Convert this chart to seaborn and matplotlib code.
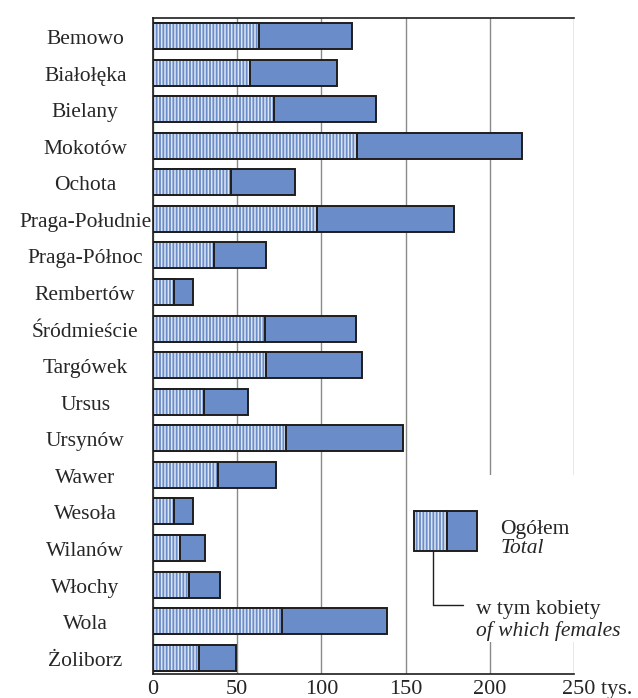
import matplotlib
matplotlib.use("Agg")
import matplotlib.pyplot as plt
import seaborn as sns
import pandas as pd
from matplotlib.patches import Rectangle

districts = ["Bemowo", "Białołęka", "Bielany", "Mokotów", "Ochota", "Praga-Południe",
             "Praga-Północ", "Rembertów", "Śródmieście", "Targówek", "Ursus", "Ursynów",
             "Wawer", "Wesoła", "Wilanów", "Włochy", "Wola", "Żoliborz"]
total = [118.2, 109.3, 132.2, 219.2, 84.6, 178.5, 67.4, 24.1, 120.4,
         123.9, 56.7, 148.6, 73.1, 24.1, 30.8, 40.1, 138.7, 49.2]
females = [63.0, 57.7, 71.9, 121.0, 46.4, 97.6, 36.4, 12.6, 66.6,
           67.0, 30.2, 79.2, 38.9, 12.6, 16.4, 21.5, 76.5, 27.5]
tick_values = [0, 50, 100, 150, 200, 250]
tick_labels = ["0", "50", "100", "150", "200", ""]

blue = "#6A8CC8"
stripe = "#dde6f5"
dark = "#1e1e1e"

sns.set_style("white")
plt.rcParams["font.family"] = ["Liberation Serif", "DejaVu Serif"]
plt.rcParams["hatch.linewidth"] = 1.1

df = pd.DataFrame({"district": districts, "total": total, "females": females})

fig = plt.figure(figsize=(6.38, 6.98), dpi=100)
ax = fig.add_axes([0.2393, 0.0344, 0.6609, 0.9398])

# total bars
sns.barplot(data=df, x="total", y="district", orient="h", color=blue, saturation=1,
            width=0.71, errorbar=None, edgecolor=dark, linewidth=1.4, ax=ax, zorder=3)
# striped female part
sns.barplot(data=df, x="females", y="district", orient="h", color=blue, saturation=1,
            width=0.71, errorbar=None, edgecolor=stripe, linewidth=0, hatch="|||||",
            ax=ax, zorder=4)
ax.barh(range(len(districts)), females, height=0.71, fill=False, edgecolor=dark,
        linewidth=1.4, zorder=5)

ax.set_xlim(0, 250)
ax.set_ylim(17.446, -0.492)
ax.set_xticks(tick_values)
ax.set_xticklabels(tick_labels)
ax.set_xlabel("")
ax.set_ylabel("")
ax.set_axisbelow(True)
ax.grid(axis="x", color="#8a8a8a", linewidth=1.0)
ax.grid(axis="y", visible=False)
ax.tick_params(axis="x", length=0, labelsize=16, pad=4)
ax.tick_params(axis="y", length=0, labelleft=False)
ax.annotate("250 tys.", xy=(250, 0), xycoords=ax.get_xaxis_transform(),
            xytext=(-9, -4), textcoords="offset points", ha="left", va="top", fontsize=16)

# district names, centred in the label column
for i, name in enumerate(districts):
    ax.text(-0.160, i + 0.22, name, transform=ax.get_yaxis_transform(), ha="center",
            va="baseline", fontsize=15.5)

for side in ["top", "left", "bottom"]:
    ax.spines[side].set_color(dark)
    ax.spines[side].set_linewidth(1.2)
ax.spines["right"].set_visible(False)

# legend area (hides gridlines behind it)
ax.add_patch(Rectangle((155, 12.0), 110, 4.57, facecolor="white", edgecolor="none",
                       zorder=1, clip_on=False))
ax.add_patch(Rectangle((155, 13.0), 19.4, 1.07, facecolor=blue, edgecolor=stripe,
                       linewidth=0, hatch="|||||", zorder=6))
ax.add_patch(Rectangle((155, 13.0), 19.4, 1.07, fill=False, edgecolor=dark,
                       linewidth=1.4, zorder=7))
ax.add_patch(Rectangle((174.4, 13.0), 17.9, 1.07, facecolor=blue, edgecolor=dark,
                       linewidth=1.4, zorder=7))
ax.plot([166.2, 166.2, 184], [14.07, 15.56, 15.56], color=dark, linewidth=1.0,
        clip_on=False, zorder=6)
ax.text(206, 13.63, "Ogółem", fontsize=15.5, va="baseline", ha="left", zorder=8)
ax.text(206, 14.13, "Total", fontsize=15.5, style="italic", va="baseline", ha="left",
        zorder=8)
ax.text(191.5, 15.8, "w tym kobiety", fontsize=15.5, va="baseline", ha="left", zorder=8,
        clip_on=False)
ax.text(191.5, 16.4, "of which females", fontsize=15.5, style="italic", va="baseline",
        ha="left", zorder=8, clip_on=False)

fig.savefig("out.png", dpi=100)
